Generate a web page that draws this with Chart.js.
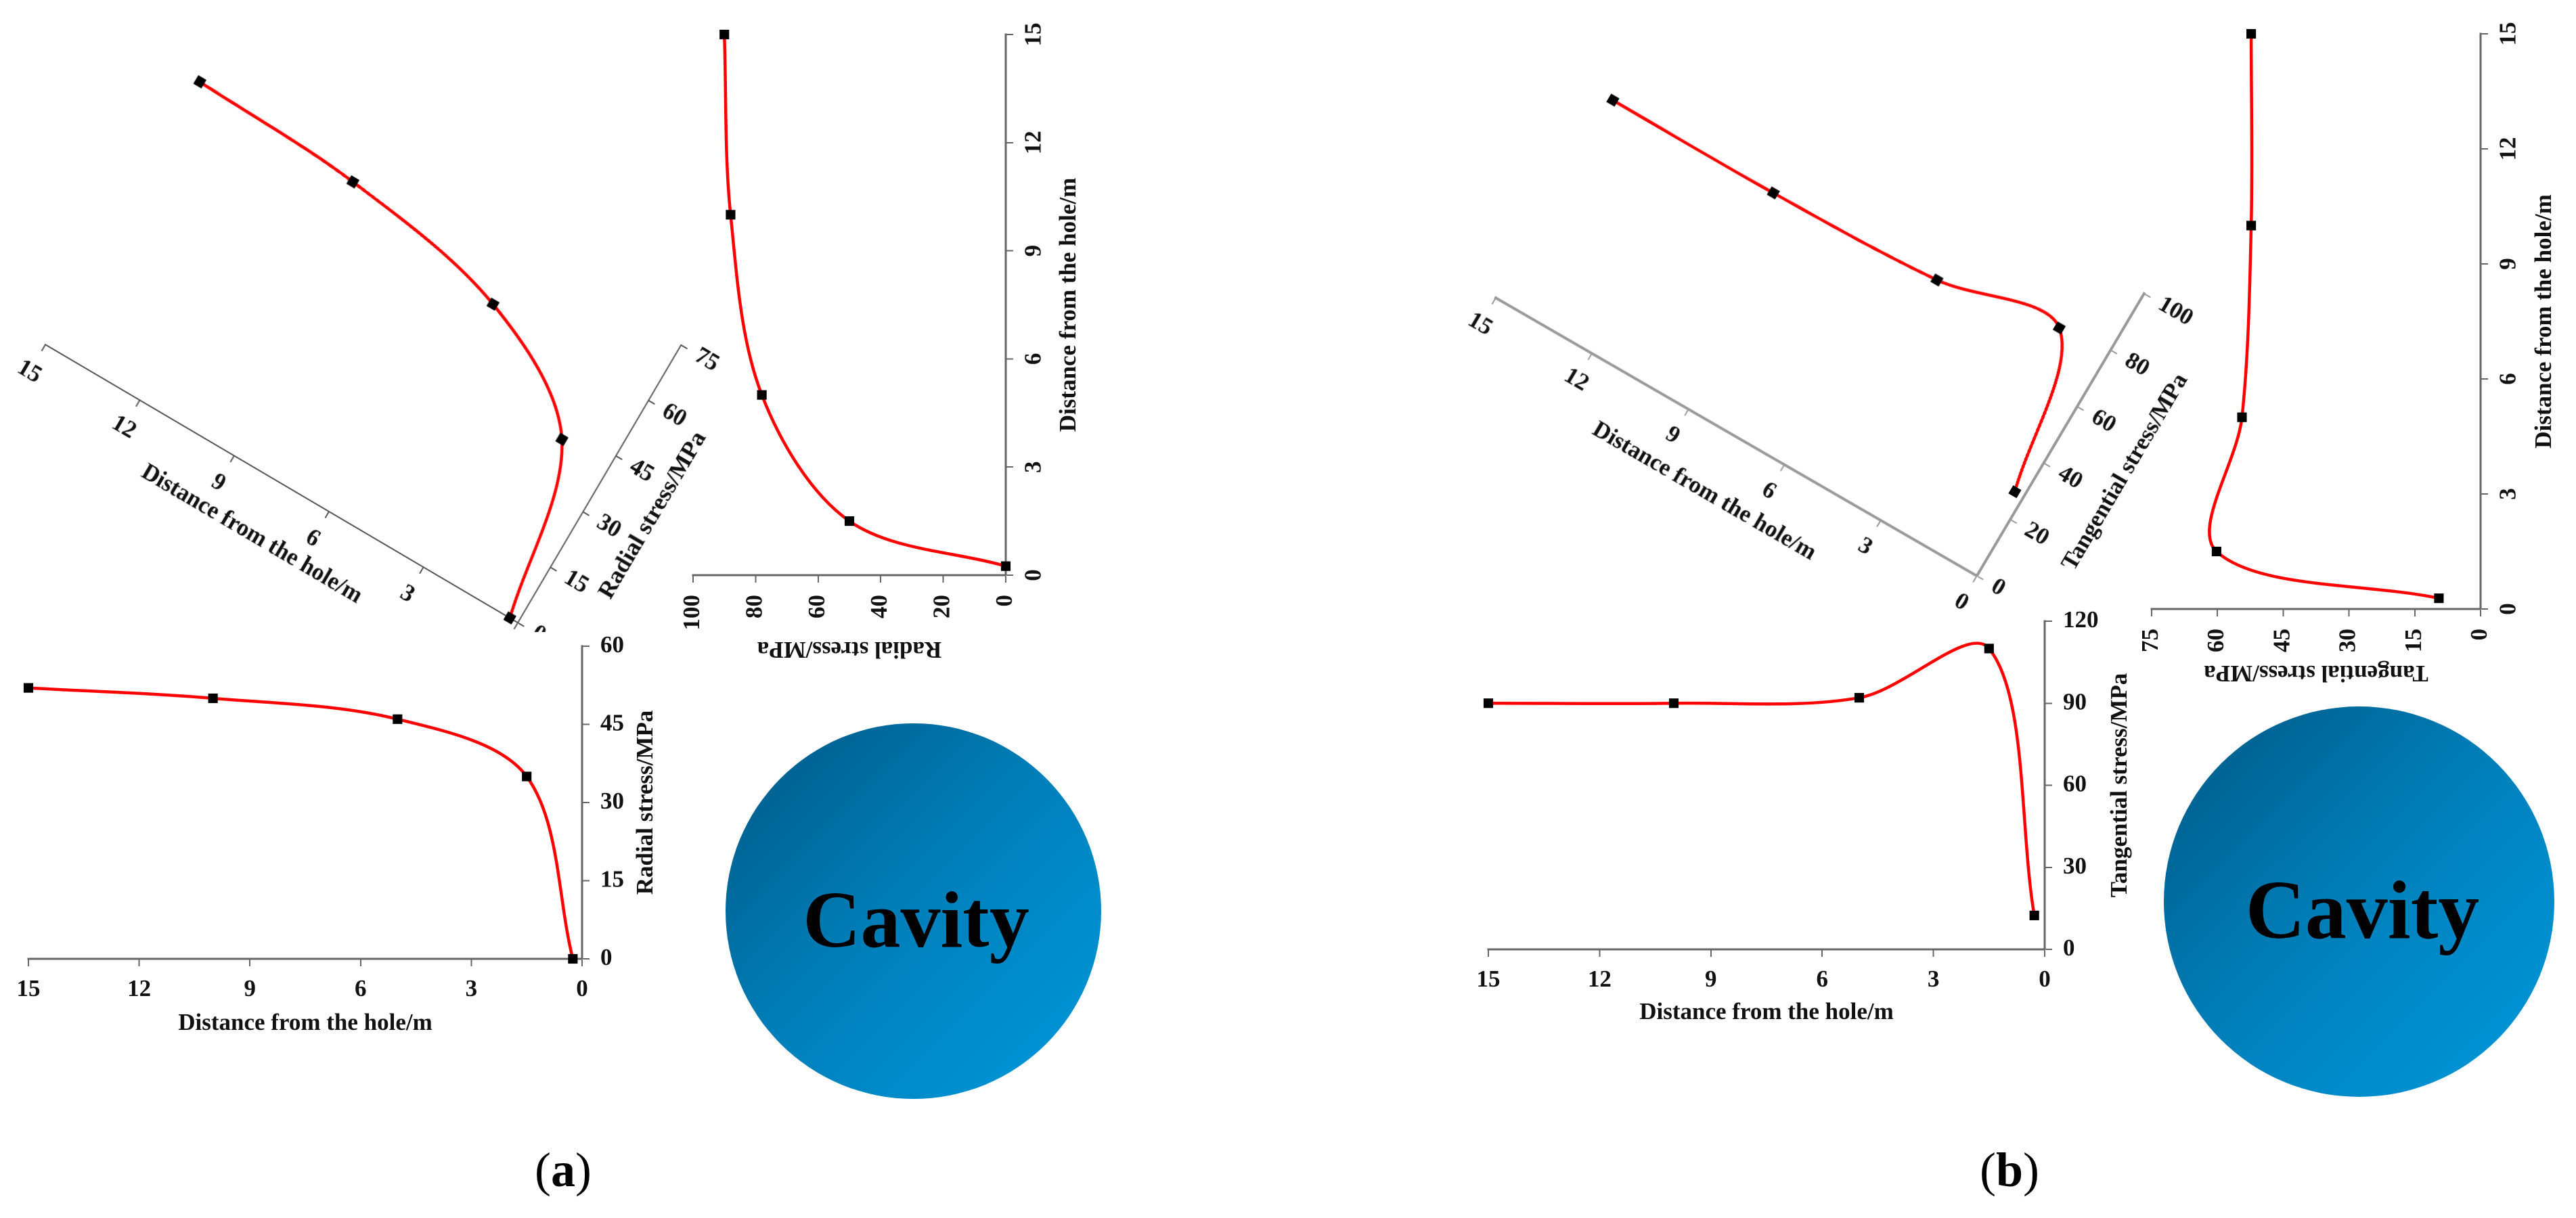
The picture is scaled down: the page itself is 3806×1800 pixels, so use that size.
<!DOCTYPE html>
<html>
<head>
<meta charset="utf-8">
<title>Stress around the cavity</title>
<script src="https://cdn.jsdelivr.net/npm/chart.js@4"></script>
<style>
  html, body { margin: 0; background: #fff; }
  #page { position: relative; width: 3806px; height: 1800px; overflow: hidden; }
  canvas { position: absolute; }
  #a-mask { position: absolute; left: 0; top: 934px; width: 1000px; height: 620px; background: #fff; }
  .cavity { position: absolute; border-radius: 50%; background: linear-gradient(135deg, #00608f 10%, #0080bb 50%, #0094d6 90%); }
  .cavity span { position: absolute; left: 0; right: 0; text-align: center; font: bold 118px "Liberation Serif", serif; color: #000; line-height: 1; }
  .caption { position: absolute; top: 1688px; width: 200px; text-align: center; font: 72px "Liberation Serif", serif; color: #000; }
</style>
</head>
<body>
<div id="page">
  <canvas id="a-skew"></canvas>
  <div id="a-mask"></div>
  <canvas id="a-bottom"></canvas>
  <canvas id="a-right"></canvas>
  <canvas id="b-skew"></canvas>
  <canvas id="b-bottom"></canvas>
  <canvas id="b-right"></canvas>
  <div class="cavity" style="left:1072px;top:1069px;width:555px;height:555px"><span style="top:232px;padding-left:8px">Cavity</span></div>
  <div class="cavity" style="left:3197px;top:1044px;width:577px;height:577px"><span style="top:240px;padding-left:10px;font-size:122px">Cavity</span></div>
  <div class="caption" style="left:732px">(<b>a</b>)</div>
  <div class="caption" style="left:2869px">(<b>b</b>)</div>
</div>
<script>
const distanceA = [15, 10, 5, 1.5, 0.25];
const distanceB = [15, 10, 5, 1.5, 0.28];

const radialSkew = [71, 69, 61, 42, 0];
const radialBottom = [52, 50, 46, 35, 0];
const radialRight = [90, 88, 78, 50, 0];

const tangentialSkew = [70, 70, 72, 78, 28];
const tangentialBottom = [90, 90, 92, 110, 12.4];
const tangentialRight = [52.3, 52.3, 54.4, 60.2, 9.5];

const distanceTitle = "Distance from the hole/m";
const radialTitle = "Radial stress/MPa";
const tangentialTitle = "Tangential stress/MPa";

const FONT = '"Liberation Serif", serif';
Chart.defaults.font.family = FONT;
Chart.defaults.font.weight = "bold";
Chart.defaults.font.size = 35;
Chart.defaults.color = "#111";

// top has to hold half a tick label plus its padding or the plot area shrinks
const margin = { l: 40, t: 45, r: 150, b: 130 };
const CURVE_TENSION = 0.33;

// draws the axis titles, the library puts right-hand titles the wrong way round
function titlesPlugin(titles) {
    return {
        id: "titles",
        afterDraw(chart) {
            const { left, bottom, width, height } = chart.chartArea;
            const ctx = chart.ctx;
            titles.forEach(t => {
                ctx.save();
                ctx.translate(left + width * t.u + (t.dx || 0), bottom - height * t.v + (t.dy || 0));
                ctx.rotate(t.rot * Math.PI / 180);
                ctx.font = `bold ${t.size || 35}px ${FONT}`;
                ctx.fillStyle = "#111";
                ctx.textAlign = "center";
                ctx.textBaseline = "middle";
                ctx.fillText(t.text, 0, 0);
                ctx.restore();
            });
        }
    };
}

function axisStyle(color, width) {
    return {
        border: { color, width },
        grid: { drawOnChartArea: false, drawTicks: true, tickLength: 11, tickColor: color, tickWidth: 2 }
    };
}

function curveDataset(points) {
    return {
        data: points,
        showLine: true,
        tension: CURVE_TENSION,
        clip: false,
        borderColor: "#ff0000",
        borderWidth: 4.5,
        pointStyle: "rect",
        pointRadius: 10,
        pointBackgroundColor: "#000",
        pointBorderWidth: 0
    };
}

function baseOptions(scales) {
    return {
        responsive: false,
        animation: false,
        devicePixelRatio: 2,
        layout: { padding: { left: margin.l, top: margin.t, right: 0, bottom: 0 } },
        plugins: { legend: { display: false }, tooltip: { enabled: false } },
        scales
    };
}

function placeCanvas(canvasId, box) {
    const canvas = document.getElementById(canvasId);
    canvas.width = margin.l + box.w + margin.r;
    canvas.height = margin.t + box.h + margin.b;
    canvas.style.left = (box.x - margin.l) + "px";
    canvas.style.top = (box.y - margin.t) + "px";
    return canvas;
}

// distance runs along the bottom, stress along the right
function renderUpright(canvasId, box, distance, stress, stressMax, stressStep, opts) {
    const canvas = placeCanvas(canvasId, box);
    if (opts.skew) {
        const [ax, ay, cx, cy] = opts.skew;
        canvas.style.transformOrigin = `${margin.l + box.w}px ${margin.t + box.h}px`;
        canvas.style.transform = `matrix(${ax / box.w},${ay / box.w},${cx / box.h},${cy / box.h},0,0)`;
    }
    new Chart(canvas, {
        type: "scatter",
        data: { datasets: [curveDataset(distance.map((d, i) => ({ x: d, y: stress[i] })))] },
        options: baseOptions({
            x: {
                type: "linear", reverse: true, min: 0, max: 15,
                ...axisStyle(opts.axisColor, opts.axisWidth),
                ticks: { stepSize: 3, padding: 14, maxRotation: 0, minRotation: 0 },
                afterFit: s => { s.height = margin.b; }
            },
            y: {
                type: "linear", position: "right", min: 0, max: stressMax,
                ...axisStyle(opts.axisColor, opts.axisWidth),
                ticks: { stepSize: stressStep, padding: 16 },
                afterFit: s => { s.width = margin.r; }
            }
        }),
        plugins: [titlesPlugin([
            { text: distanceTitle, u: 0.5, v: 0, dy: opts.xTitleGap, rot: 0 },
            { text: opts.stressTitle, u: 1, v: 0.5, dx: opts.yTitleGap, rot: -90 }
        ])]
    });
}

// distance runs up the right side, stress along the bottom
function renderSideways(canvasId, box, distance, stress, stressMax, stressStep, opts) {
    const canvas = placeCanvas(canvasId, box);
    new Chart(canvas, {
        type: "scatter",
        data: { datasets: [curveDataset(distance.map((d, i) => ({ x: stress[i], y: d })))] },
        options: baseOptions({
            x: {
                type: "linear", reverse: true, min: 0, max: stressMax,
                ...axisStyle("#666", 3),
                ticks: { stepSize: stressStep, padding: 18, minRotation: 90, maxRotation: 90 },
                afterFit: s => { s.height = margin.b; }
            },
            y: {
                type: "linear", position: "right", min: 0, max: 15,
                ...axisStyle("#666", 3),
                ticks: { stepSize: 3, padding: 14, minRotation: 90, maxRotation: 90, crossAlign: "center" },
                afterFit: s => { s.width = margin.r; }
            }
        }),
        plugins: [titlesPlugin([
            { text: opts.stressTitle, u: 0.5, v: 0, dy: opts.xTitleGap, rot: 180 },
            { text: distanceTitle, u: 1, v: 0.5, dx: opts.yTitleGap, rot: -90 }
        ])]
    });
}

const panels = {
    aSkew: { x: 765 - 818, y: 920 - 463, w: 818, h: 463 },
    aBottom: { x: 42, y: 955, w: 818, h: 462 },
    aRight: { x: 1024, y: 51, w: 462, h: 799 },
    bSkew: { x: 2921 - 822, y: 851 - 485, w: 822, h: 485 },
    bBottom: { x: 2199, y: 918, w: 822, h: 485 },
    bRight: { x: 3179, y: 50, w: 486, h: 850 }
};

renderUpright("a-skew", panels.aSkew, distanceA, radialSkew, 75, 15, {
    skew: [698, 411, -241, 410], axisColor: "#555", axisWidth: 2,
    stressTitle: radialTitle, xTitleGap: 85, yTitleGap: 93
});
renderUpright("a-bottom", panels.aBottom, distanceA, radialBottom, 60, 15, {
    axisColor: "#666", axisWidth: 3,
    stressTitle: radialTitle, xTitleGap: 96, yTitleGap: 95
});
renderSideways("a-right", panels.aRight, distanceA, radialRight, 100, 20, {
    stressTitle: radialTitle, xTitleGap: 108, yTitleGap: 94
});
renderUpright("b-skew", panels.bSkew, distanceB, tangentialSkew, 100, 20, {
    skew: [711, 411, -247, 417], axisColor: "#999", axisWidth: 4,
    stressTitle: tangentialTitle, xTitleGap: 94, yTitleGap: 111
});
renderUpright("b-bottom", panels.bBottom, distanceB, tangentialBottom, 120, 30, {
    axisColor: "#666", axisWidth: 3,
    stressTitle: tangentialTitle, xTitleGap: 94, yTitleGap: 112
});
renderSideways("b-right", panels.bRight, distanceB, tangentialRight, 75, 15, {
    stressTitle: tangentialTitle, xTitleGap: 93, yTitleGap: 95
});
</script>
</body>
</html>
